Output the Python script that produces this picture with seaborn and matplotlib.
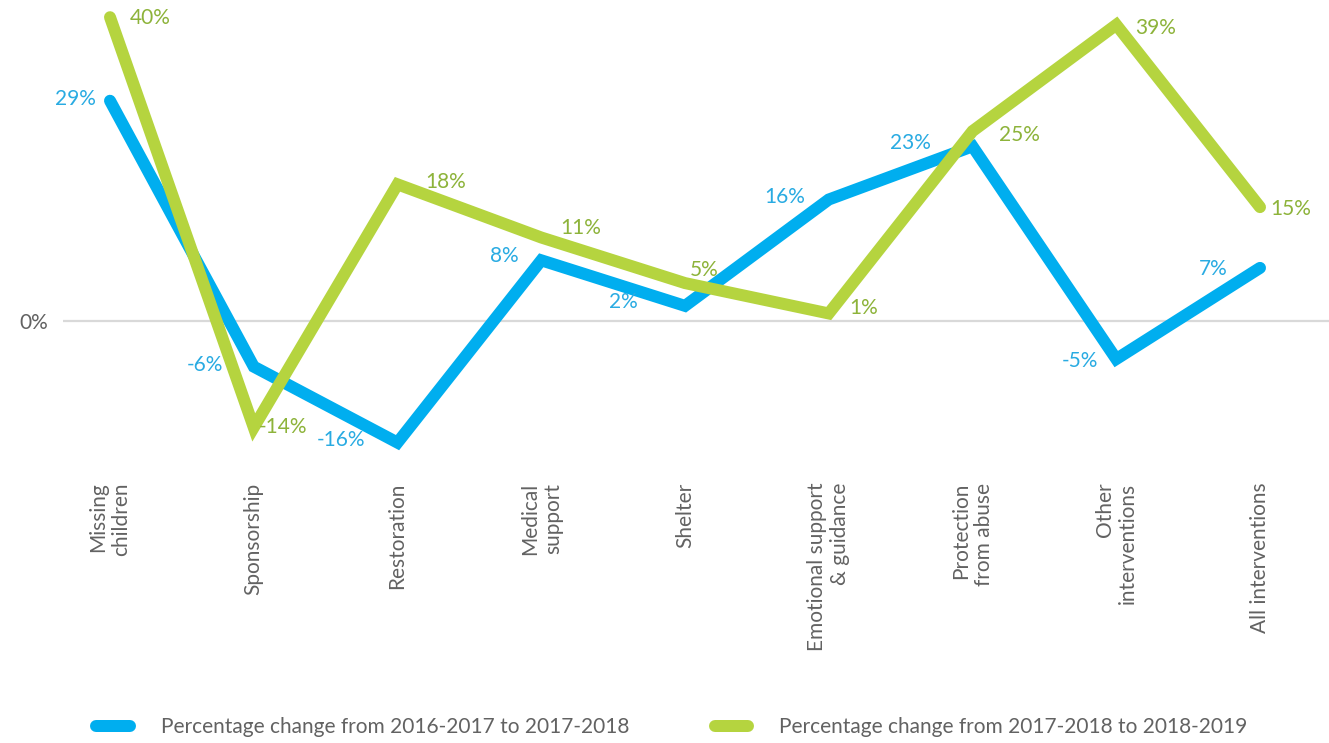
import matplotlib
matplotlib.use("Agg")
import matplotlib.pyplot as plt
import seaborn as sns
import pandas as pd
import numpy as np

# Categories (x axis) and the two series of percentage changes
categories = [
    "Missing\nchildren", "Sponsorship", "Restoration", "Medical\nsupport",
    "Shelter", "Emotional support\n& guidance", "Protection\nfrom abuse",
    "Other\ninterventions", "All interventions",
]
change_1617_1718 = [29, -6, -16, 8, 2, 16, 23, -5, 7]
change_1718_1819 = [40, -14, 18, 11, 5, 1, 25, 39, 15]
series_names = [
    "Percentage change from 2016-2017 to 2017-2018",
    "Percentage change from 2017-2018 to 2018-2019",
]

line_colors = ["#00AEEF", "#B5D43F"]
label_colors = ["#29ABE2", "#8DB33A"]
text_gray = "#626262"

sns.set_theme(style="white")
plt.rcParams["font.family"] = ["Lato", "DejaVu Sans"]

df = pd.DataFrame({
    "pos": list(range(len(categories))) * 2,
    "value": change_1617_1718 + change_1718_1819,
    "series": [series_names[0]] * len(categories) + [series_names[1]] * len(categories),
})

W, H = 1329, 743
fig = plt.figure(figsize=(W / 100, H / 100), dpi=100)
ax = fig.add_axes([63 / W, (H - 473) / H, 1 - 63 / W, 471 / H])

lw = 12 * 0.72
sns.lineplot(
    data=df, x="pos", y="value", hue="series", hue_order=series_names,
    palette=line_colors, linewidth=lw, sort=False, ax=ax,
    solid_capstyle="round", solid_joinstyle="miter",
)

ax.set_xlim(-0.327, 8.48)
ax.set_ylim(-20, 42)
ax.axhline(0, color="#D9D9D9", linewidth=1.6, zorder=0)

for s in ax.spines.values():
    s.set_visible(False)

ax.set_yticks([0])
ax.set_yticklabels(["0%"], color=text_gray, fontsize=15)
ax.tick_params(axis="y", length=0, pad=11)

ax.set_xticks(range(len(categories)))
ax.set_xticklabels(categories, rotation=90, color=text_gray, fontsize=15,
                   va="top", ha="center", multialignment="right")
ax.tick_params(axis="x", length=0, pad=7)
ax.set_xlabel("")
ax.set_ylabel("")

# Value labels: offsets given in pixels
px = 0.72
blue_offsets = [(-14, -2), (-31, -2), (-32, -3), (-23, -4), (-47, -4),
                (-24, -3), (-42, -3), (-18, 2), (-32, 1)]
green_offsets = [(20, -1), (5, 0), (28, 2), (19, 10), (5, 13),
                 (21, 5), (26, -4), (19, -3), (10, -2)]

for i, v in enumerate(change_1617_1718):
    dx, dy = blue_offsets[i]
    ax.annotate(f"{v}%", (i, v), xytext=(dx * px, -dy * px),
                textcoords="offset points", ha="right", va="center",
                color=label_colors[0], fontsize=15)
for i, v in enumerate(change_1718_1819):
    dx, dy = green_offsets[i]
    ax.annotate(f"{v}%", (i, v), xytext=(dx * px, dy * px),
                textcoords="offset points", ha="left", va="center",
                color=label_colors[1], fontsize=15)

handles, labels = ax.get_legend_handles_labels()
if ax.get_legend() is not None:
    ax.get_legend().remove()
leg = fig.legend(handles, labels, loc="center", bbox_to_anchor=(0.5057, 0.021),
                 ncol=2, frameon=False, fontsize=15, handlelength=1.6,
                 handletextpad=1.5, columnspacing=4.1)
for t in leg.get_texts():
    t.set_color(text_gray)
for h in leg.legend_handles:
    h.set_linewidth(lw)
    h.set_solid_capstyle("round")

fig.savefig("out.png", dpi=100)
